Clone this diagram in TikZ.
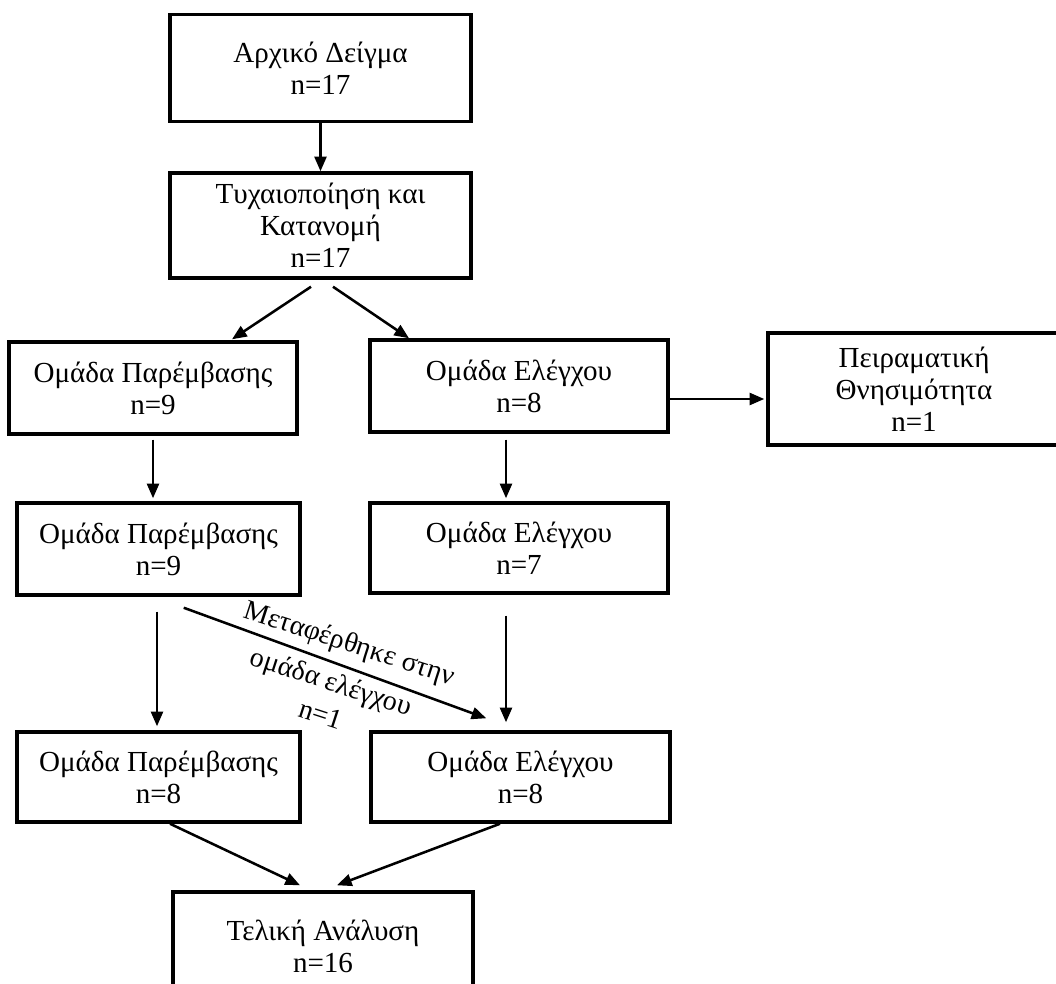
\documentclass[tikz,border=0pt]{standalone}
\usepackage{fontspec}
\setmainfont{Liberation Serif}
\usepackage{tikz}
\usetikzlibrary{arrows.meta,calc,positioning}

\begin{document}
\begin{tikzpicture}[x=0.75pt,y=-0.75pt,
    box/.style 2 args={draw, line width=2.6pt, align=center, inner sep=0pt,
      minimum width=#1, minimum height=#2, font=\fontsize{21.8}{24}\selectfont},
    arr/.style={line width=1.9pt, -{Triangle[length=11pt,width=9pt]}},
    lbl/.style={align=center, inner sep=0pt, font=\fontsize{21}{23}\selectfont}]
            \useasboundingbox (0,0) rectangle (1056,984);
            % Define boxes
            \node[box={225.75pt}{80.25pt}] (start) at (320.5,68) {Αρχικό Δείγμα\\n=17};
            \node[box={225.75pt}{78.75pt}] (rand) at (320.5,225.5) {Τυχαιοποίηση και\\Κατανομή\\n=17};
            \node[box={216pt}{69pt}] (intA) at (153,388) {Ομάδα Παρέμβασης\\n=9};
            \node[box={223.5pt}{69pt}] (ctrlA) at (519,386) {Ομάδα Ελέγχου\\n=8};
            \node[box={219pt}{84pt}] (loss) at (914,389) {Πειραματική\\Θνησιμότητα\\n=1};
            \node[box={212.25pt}{69pt}] (intB) at (158.5,549) {Ομάδα Παρέμβασης\\n=9};
            \node[box={223.5pt}{67.5pt}] (ctrlB) at (519,548) {Ομάδα Ελέγχου\\n=7};
            \node[box={212.25pt}{67.5pt}] (intC) at (158.5,777) {Ομάδα Παρέμβασης\\n=8};
            \node[box={224.25pt}{67.5pt}] (ctrlC) at (520.5,777) {Ομάδα Ελέγχου\\n=8};
            \node[box={225pt}{81pt}] (final) at (323,946) {Τελική Ανάλυση\\n=16};
            % Connect the boxes
            \draw[arr] (start.south) -- (rand.north);
            \draw[arr] ($(rand.south)+(-9.5,7)$) -- ($(intA.north)+(79,-1)$);
            \draw[arr] ($(rand.south)+(12.5,7)$) -- ($(ctrlA.north)+(-110,0)$);
            \draw[arr] ($(ctrlA.east)+(0,13)$) -- ($(loss.west)+(-2,10)$);
            \draw[arr] ($(intA.south)+(0,4)$) -- ($(intB.north)+(-5.5,-3)$);
            \draw[arr] ($(ctrlA.south)+(-13,6)$) -- ($(ctrlB.north)+(-13,-3)$);
            \draw[arr] ($(intB.south)+(-1.5,15)$) -- ($(intC.north)+(-1.5,-4)$);
            \draw[arr] ($(ctrlB.south)+(-13,21)$) -- ($(ctrlC.north)+(-14.5,-8)$);
            \draw[arr] ($(intB.south east)+(-118,11)$) -- ($(ctrlC.north west)+(117,-12)$);
            \draw[arr] ($(intC.south)+(11.5,0)$) -- ($(final.north)+(-23,-5)$);
            \draw[arr] ($(ctrlC.south)+(-20.5,0)$) -- ($(final.north)+(14,-5)$);
            % Label the transfer
            \node[lbl, rotate=-18] (move) at (333,677)
              {\hspace*{8pt}Μεταφέρθηκε στην\\[9pt]ομάδα ελέγχου\\[3pt]n=1};
          \end{tikzpicture}
\end{document}
